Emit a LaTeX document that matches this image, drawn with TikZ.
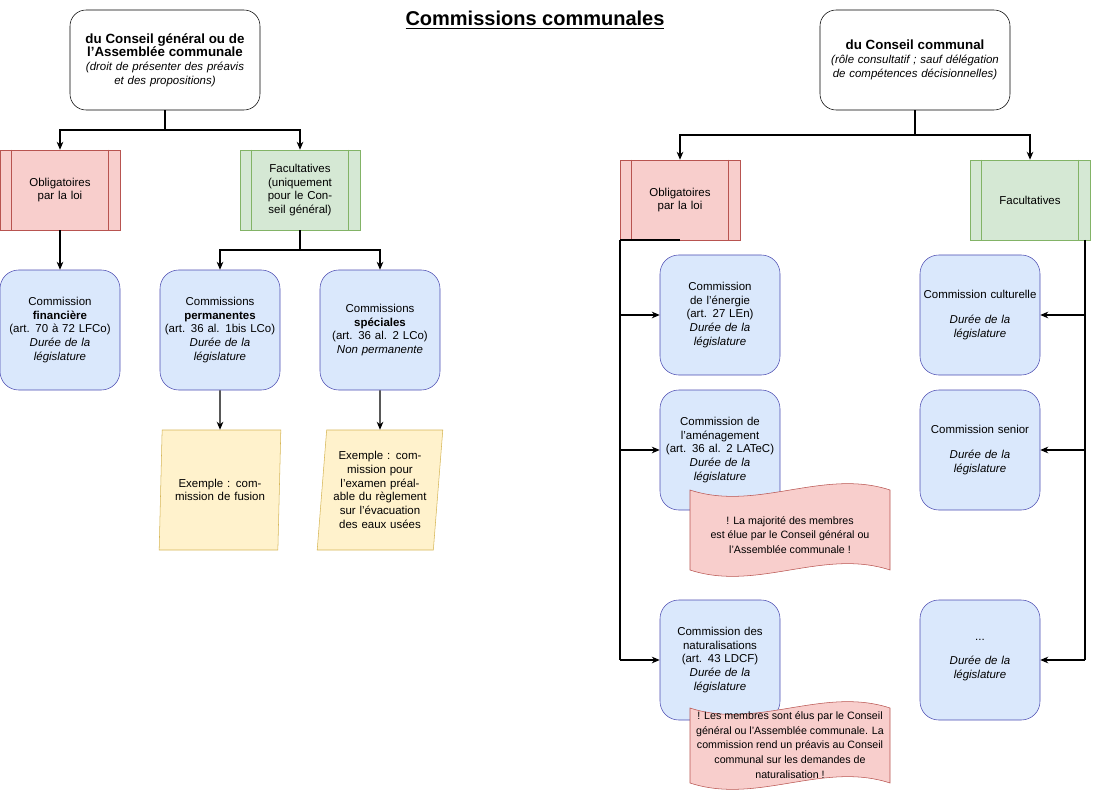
\documentclass[tikz,border=0pt]{standalone}
\usepackage{fontspec}
\setmainfont{Liberation Sans}
\usetikzlibrary{shapes.geometric,arrows.meta}
\begin{document}
\begin{tikzpicture}[x=0.75pt,y=-0.75pt,
  font=\fontsize{8.6}{10.3}\selectfont,
  ln/.style={draw=black,line width=0.8pt},
  arr/.style={ln,-{Stealth[length=6pt,width=5pt]}},
  top/.style={draw=black,rounded corners=12pt,fill=white,minimum width=142.5pt,minimum height=75pt,align=center,text width=138pt,inner sep=1pt},
  blue/.style={draw=blue!40!gray,fill={rgb,255:red,218;green,232;blue,252},rounded corners=14pt,minimum width=90pt,minimum height=90pt,text width=86pt,align=center,inner sep=1pt},
  yel/.style={trapezium,trapezium left angle=83,trapezium right angle=97,draw={rgb,255:red,214;green,182;blue,86},fill={rgb,255:red,255;green,242;blue,204},minimum width=92pt,minimum height=90pt,text width=80pt,align=center,inner sep=0pt,trapezium stretches=true},
  red/.style={draw={rgb,255:red,184;green,84;blue,80},fill={rgb,255:red,248;green,206;blue,204}},
  grn/.style={draw={rgb,255:red,130;green,179;blue,102},fill={rgb,255:red,213;green,232;blue,212}},
  proc/.style={minimum width=90pt,minimum height=60pt,text width=70pt,align=center,inner sep=1pt}]
\useasboundingbox (0,0) rectangle (1095,802);
\node (title) at (535,20) {\fontsize{15}{18}\selectfont\bfseries\underline{Commissions communales}};
% top boxes
\node[top] (A) at (165,60) {{\fontsize{10}{12.5}\selectfont\bfseries du Conseil général ou de l'Assemblée communale}\\ \itshape (droit de présenter des préavis\\ et des propositions)};
\node[top] (B) at (915,60) {{\fontsize{10}{12.5}\selectfont\bfseries du Conseil communal}\\ \itshape (rôle consultatif ; sauf délégation\\ de compétences décisionnelles)};
% process boxes
\newcommand{\procln}[2]{\draw[#2] ([xshift=9pt]#1.north west) -- ([xshift=9pt]#1.south west) ([xshift=-9pt]#1.north east) -- ([xshift=-9pt]#1.south east);}
\node[proc,red] (oL) at (60,190) {Obligatoires\\par la loi};
\procln{oL}{draw={rgb,255:red,184;green,84;blue,80}}
\node[proc,grn] (fL) at (300,190) {Facultatives (uniquement pour le Conseil général)};
\procln{fL}{draw={rgb,255:red,130;green,179;blue,102}}
\node[proc,red] (oR) at (680,200) {Obligatoires\\par la loi\\[10pt]};
\procln{oR}{draw={rgb,255:red,184;green,84;blue,80}}
\node[proc,grn] (fR) at (1030,200) {Facultatives};
\procln{fR}{draw={rgb,255:red,130;green,179;blue,102}}
% left blue
\node[blue] (fin) at (60,330) {Commission\\ \textbf{financière}\\(art. 70 à 72 LFCo)\\ \itshape Durée de la législature};
\node[blue] (perm) at (220,330) {Commissions \textbf{permanentes}\\(art. 36 al. 1bis LCo)\\ \itshape Durée de la législature};
\node[blue] (spec) at (380,330) {Commissions \textbf{spéciales}\\(art. 36 al. 2 LCo)\\ \itshape Non permanente\\[8pt]};
\node[yel] (ex1) at (220,490) {Exemple : commission de fusion};
\node[yel] (ex2) at (380,490) {Exemple : commission pour l'examen préalable du règlement sur l'évacuation des eaux usées};
% right blue
\node[blue] (ene) at (720,315) {Commission de l'énergie\\(art. 27 LEn)\\ \itshape Durée de la législature};
\node[blue] (ame) at (720,450) {Commission de l'aménagement\\(art. 36 al. 2 LATeC)\\ \itshape Durée de la législature\\[14pt]};
\node[blue] (nat) at (720,660) {Commission des naturalisations\\(art. 43 LDCF)\\ \itshape Durée de la législature\\[14pt]};
\node[blue] (cul) at (980,315) {Commission culturelle\\[8pt] \itshape Durée de la législature};
\node[blue] (sen) at (980,450) {Commission senior\\[8pt] \itshape Durée de la législature};
\node[blue] (etc) at (980,660) {...\\[8pt] \itshape Durée de la législature};
% notes
\draw[red] (690,490) .. controls (757,512) and (823,468) .. (890,490) -- (890,570) .. controls (823,548) and (757,592) .. (690,570) -- cycle;
\node[align=center,font=\fontsize{8}{11}\selectfont] (n1) at (790,535) {! La majorité des membres\\est élue par le Conseil général ou\\l’Assemblée communale !};
\draw[red] (690,708) .. controls (757,730) and (823,686) .. (890,708) -- (890,783) .. controls (823,761) and (757,805) .. (690,783) -- cycle;
\node[align=center,font=\fontsize{8}{11}\selectfont] (n2) at (790,745) {! Les membres sont élus par le Conseil\\général ou l’Assemblée communale. La\\commission rend un préavis au Conseil\\communal sur les demandes de\\naturalisation !};
% connectors left
\coordinate (jA) at (165,130);
\draw[ln] (A.south) -- (jA);
\draw[arr] (jA) -| (oL.north);
\draw[arr] (jA) -| (fL.north);
\draw[arr] (oL.south) -- (fin.north);
\coordinate (jF) at (300,250);
\draw[ln] (fL.south) -- (jF);
\draw[arr] (jF) -| (perm.north);
\draw[arr] (jF) -| (spec.north);
\draw[arr] (perm.south) -- (ex1.north);
\draw[arr] (spec.south) -- (ex2.north);
% connectors right
\coordinate (jB) at (915,135);
\draw[ln] (B.south) -- (jB);
\draw[arr] (jB) -| (oR.north);
\draw[arr] (jB) -| (fR.north);
\coordinate (lA) at (620,240);
\coordinate (lB) at (680,240);
\coordinate (lC) at (620,660);
\draw[line width=1.2pt] (lA) -- (lB);
\draw[ln] (lA) -- (lC);
\draw[arr] (620,315) -- (ene.west);
\draw[arr] (620,450) -- (ame.west);
\draw[arr] (lC) -- (nat.west);
\coordinate (rA) at (1085,240);
\coordinate (rC) at (1085,660);
\draw[ln] (rA) -- (rC);
\draw[arr] (1085,315) -- (cul.east);
\draw[arr] (1085,450) -- (sen.east);
\draw[arr] (rC) -- (etc.east);
\end{tikzpicture}
\end{document}
